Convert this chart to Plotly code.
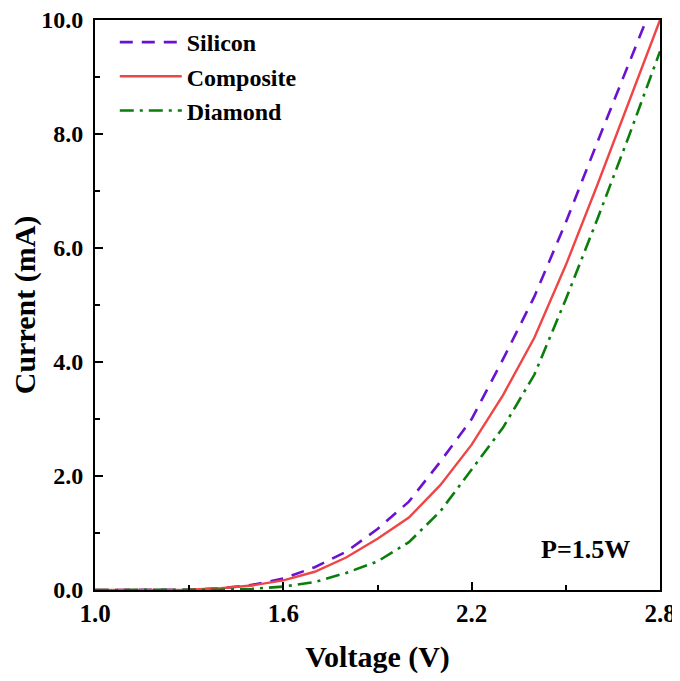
import plotly.graph_objects as go

voltage = [1.0, 1.1, 1.2, 1.3, 1.4, 1.5, 1.6, 1.7, 1.8, 1.9, 2.0, 2.1, 2.2, 2.3, 2.4, 2.5, 2.6, 2.7, 2.8]
silicon = [0, 0, 0, 0.005, 0.03, 0.09, 0.2, 0.4, 0.67, 1.07, 1.55, 2.25, 3.0, 4.05, 5.15, 6.45, 7.85, 9.25, 10.6]
composite = [0, 0, 0, 0.005, 0.03, 0.08, 0.17, 0.32, 0.57, 0.9, 1.27, 1.84, 2.55, 3.42, 4.43, 5.7, 7.1, 8.55, 10.0]
diamond = [0, 0, 0, 0, 0.005, 0.02, 0.06, 0.14, 0.3, 0.5, 0.84, 1.38, 2.12, 2.85, 3.78, 5.1, 6.5, 7.95, 9.45]

FONT = "Liberation Serif"

fig = go.Figure()
fig.add_trace(go.Scatter(x=voltage, y=silicon, mode="lines", name="Silicon",
                         line=dict(color="#6a12d0", width=2.6, dash="13px,9px")))
fig.add_trace(go.Scatter(x=voltage, y=composite, mode="lines", name="Composite",
                         line=dict(color="#f04545", width=2.4)))
fig.add_trace(go.Scatter(x=voltage, y=diamond, mode="lines", name="Diamond",
                         line=dict(color="#0a7d0a", width=2.6, dash="14px,6px,3px,6px")))

fig.update_layout(
    width=680, height=681,
    margin=dict(l=87, r=28, t=12, b=99),
    paper_bgcolor="white", plot_bgcolor="white",
    font=dict(family=FONT, size=20, color="black"),
    showlegend=True,
    legend=dict(x=0.035, y=1.0, xanchor="left", yanchor="top",
                bgcolor="rgba(0,0,0,0)", borderwidth=0,
                font=dict(family=FONT, size=24, color="black", weight="bold"),
                itemwidth=62),
    xaxis=dict(
        range=[1.0, 2.8], tickmode="array", tickvals=[1.0, 1.6, 2.2, 2.8],
        ticktext=["1.0", "1.6", "2.2", "2.8"],
        ticks="inside", ticklen=8, tickwidth=2, tickcolor="black",
        minor=dict(tickvals=[1.3, 1.9, 2.5], ticks="inside", ticklen=5, tickwidth=2, tickcolor="black"),
        showline=True, linecolor="black", linewidth=2, mirror=True,
        showgrid=False, zeroline=False, automargin=False,
        ticklabeloverflow="allow",
        tickfont=dict(family=FONT, size=25, weight="bold"),
        title=dict(text="Voltage (V)", font=dict(family=FONT, size=30, weight="bold"), standoff=20),
    ),
    yaxis=dict(
        range=[0, 10], tickmode="array", tickvals=[0, 2, 4, 6, 8, 10],
        ticktext=["0.0", "2.0", "4.0", "6.0", "8.0", "10.0"],
        ticks="inside", ticklen=8, tickwidth=2, tickcolor="black",
        minor=dict(tickvals=[1, 3, 5, 7, 9], ticks="inside", ticklen=5, tickwidth=2, tickcolor="black"),
        showline=True, linecolor="black", linewidth=2, mirror=True,
        showgrid=False, zeroline=False, automargin=False,
        ticklabelstandoff=5, ticklabeloverflow="allow",
        tickfont=dict(family=FONT, size=24, weight="bold"),
        title=dict(text="Current (mA)", font=dict(family=FONT, size=30, weight="bold"), standoff=0),
    ),
)

fig.add_annotation(x=0.869, y=0.071, xref="paper", yref="paper", xanchor="center", yanchor="middle",
                   text="P=1.5W", showarrow=False,
                   font=dict(family=FONT, size=26, color="black", weight="bold"))

fig.write_html("out.html")
